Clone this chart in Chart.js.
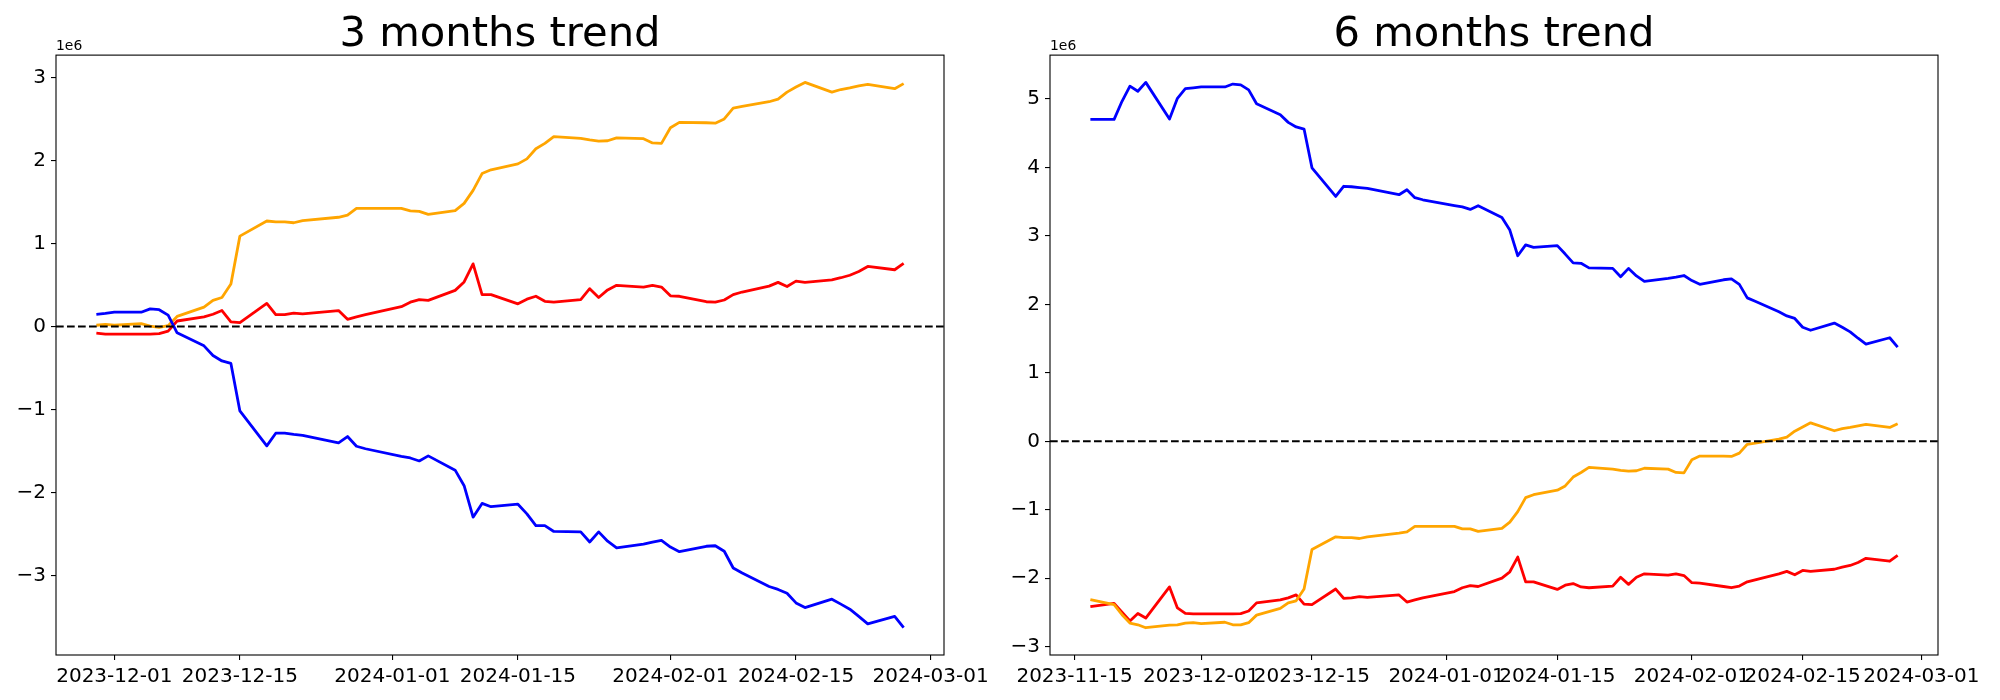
<!DOCTYPE html>
<html>
<head>
<meta charset="utf-8">
<script src="https://cdn.jsdelivr.net/npm/chart.js@4.4.1/dist/chart.umd.min.js"></script>
<style>
  html, body { margin: 0; padding: 0; background: #fff; }
  #wrap { position: relative; width: 2000px; height: 700px; }
  .panel { position: absolute; top: 0; width: 1000px; height: 700px; }
</style>
</head>
<body>
<div id="wrap">
  <div class="panel" style="left:0"><canvas id="chart3" width="1000" height="700"></canvas></div>
  <div class="panel" style="left:994px"><canvas id="chart6" width="1000" height="700"></canvas></div>
</div>
<script>
// values are in units of 1e6
const dates3 = ['2023-11-29','2023-11-30','2023-12-01','2023-12-04','2023-12-05','2023-12-06','2023-12-07','2023-12-08','2023-12-11','2023-12-12','2023-12-13','2023-12-14','2023-12-15','2023-12-18','2023-12-19','2023-12-20','2023-12-21','2023-12-22','2023-12-26','2023-12-27','2023-12-28','2023-12-29','2024-01-02','2024-01-03','2024-01-04','2024-01-05','2024-01-08','2024-01-09','2024-01-10','2024-01-11','2024-01-12','2024-01-15','2024-01-16','2024-01-17','2024-01-18','2024-01-19','2024-01-22','2024-01-23','2024-01-24','2024-01-25','2024-01-26','2024-01-29','2024-01-30','2024-01-31','2024-02-01','2024-02-02','2024-02-05','2024-02-06','2024-02-07','2024-02-08','2024-02-09','2024-02-12','2024-02-13','2024-02-14','2024-02-15','2024-02-16','2024-02-19','2024-02-20','2024-02-21','2024-02-22','2024-02-23','2024-02-26','2024-02-27'];
const blue3 = [0.147, 0.157, 0.172, 0.172, 0.212, 0.202, 0.137, -0.076, -0.233, -0.349, -0.415, -0.445, -1.017, -1.437, -1.285, -1.285, -1.300, -1.310, -1.401, -1.325, -1.442, -1.472, -1.563, -1.583, -1.619, -1.558, -1.730, -1.917, -2.296, -2.130, -2.170, -2.140, -2.256, -2.398, -2.398, -2.468, -2.473, -2.595, -2.473, -2.585, -2.666, -2.620, -2.595, -2.575, -2.656, -2.711, -2.646, -2.640, -2.706, -2.908, -2.969, -3.131, -3.166, -3.212, -3.328, -3.384, -3.283, -3.343, -3.404, -3.490, -3.581, -3.490, -3.627];
const orange3 = [0.015, 0.025, 0.015, 0.035, 0.005, -0.010, 0.010, 0.121, 0.233, 0.314, 0.349, 0.511, 1.088, 1.270, 1.259, 1.259, 1.249, 1.275, 1.315, 1.340, 1.421, 1.421, 1.421, 1.391, 1.386, 1.350, 1.396, 1.482, 1.639, 1.841, 1.887, 1.958, 2.018, 2.140, 2.205, 2.286, 2.266, 2.246, 2.231, 2.236, 2.271, 2.261, 2.210, 2.205, 2.393, 2.458, 2.453, 2.448, 2.499, 2.630, 2.650, 2.706, 2.737, 2.822, 2.883, 2.939, 2.822, 2.853, 2.873, 2.898, 2.914, 2.863, 2.924];
const red3 = [-0.081, -0.091, -0.091, -0.091, -0.091, -0.086, -0.056, 0.066, 0.116, 0.147, 0.192, 0.056, 0.046, 0.278, 0.142, 0.142, 0.162, 0.152, 0.192, 0.086, 0.116, 0.142, 0.238, 0.293, 0.324, 0.314, 0.435, 0.536, 0.754, 0.384, 0.384, 0.273, 0.329, 0.364, 0.303, 0.293, 0.324, 0.455, 0.349, 0.440, 0.496, 0.475, 0.496, 0.475, 0.369, 0.364, 0.298, 0.293, 0.319, 0.384, 0.415, 0.486, 0.531, 0.481, 0.546, 0.531, 0.561, 0.587, 0.617, 0.663, 0.723, 0.683, 0.759];

const dates6 = ['2023-11-17','2023-11-20','2023-11-21','2023-11-22','2023-11-23','2023-11-24','2023-11-27','2023-11-28','2023-11-29','2023-11-30','2023-12-01','2023-12-04','2023-12-05','2023-12-06','2023-12-07','2023-12-08','2023-12-11','2023-12-12','2023-12-13','2023-12-14','2023-12-15','2023-12-18','2023-12-19','2023-12-20','2023-12-21','2023-12-22','2023-12-26','2023-12-27','2023-12-28','2023-12-29','2024-01-02','2024-01-03','2024-01-04','2024-01-05','2024-01-08','2024-01-09','2024-01-10','2024-01-11','2024-01-12','2024-01-15','2024-01-16','2024-01-17','2024-01-18','2024-01-19','2024-01-22','2024-01-23','2024-01-24','2024-01-25','2024-01-26','2024-01-29','2024-01-30','2024-01-31','2024-02-01','2024-02-02','2024-02-05','2024-02-06','2024-02-07','2024-02-08','2024-02-09','2024-02-12','2024-02-13','2024-02-14','2024-02-15','2024-02-16','2024-02-19','2024-02-20','2024-02-21','2024-02-22','2024-02-23','2024-02-26','2024-02-27'];
const blue6 = [4.700, 4.700, 4.965, 5.186, 5.112, 5.241, 4.707, 5.008, 5.149, 5.161, 5.174, 5.174, 5.217, 5.204, 5.131, 4.930, 4.768, 4.657, 4.590, 4.559, 3.994, 3.576, 3.724, 3.717, 3.705, 3.693, 3.601, 3.674, 3.558, 3.527, 3.441, 3.422, 3.386, 3.441, 3.269, 3.084, 2.710, 2.869, 2.833, 2.857, 2.734, 2.605, 2.599, 2.532, 2.525, 2.402, 2.525, 2.415, 2.335, 2.378, 2.396, 2.421, 2.347, 2.292, 2.359, 2.372, 2.292, 2.095, 2.046, 1.892, 1.831, 1.794, 1.665, 1.622, 1.727, 1.665, 1.598, 1.505, 1.419, 1.512, 1.376];
const orange6 = [-2.310, -2.384, -2.532, -2.654, -2.679, -2.722, -2.685, -2.679, -2.654, -2.648, -2.661, -2.642, -2.679, -2.679, -2.648, -2.538, -2.439, -2.359, -2.329, -2.157, -1.579, -1.395, -1.407, -1.407, -1.419, -1.395, -1.339, -1.321, -1.241, -1.241, -1.241, -1.278, -1.278, -1.315, -1.272, -1.180, -1.026, -0.823, -0.780, -0.713, -0.651, -0.522, -0.455, -0.381, -0.406, -0.424, -0.436, -0.430, -0.393, -0.406, -0.455, -0.461, -0.270, -0.215, -0.215, -0.221, -0.172, -0.043, -0.025, 0.031, 0.061, 0.147, 0.209, 0.270, 0.154, 0.184, 0.203, 0.227, 0.246, 0.203, 0.258];
const red6 = [-2.415, -2.366, -2.495, -2.624, -2.513, -2.581, -2.126, -2.433, -2.513, -2.519, -2.519, -2.519, -2.519, -2.516, -2.478, -2.359, -2.316, -2.286, -2.243, -2.378, -2.384, -2.157, -2.292, -2.286, -2.267, -2.280, -2.243, -2.347, -2.316, -2.286, -2.194, -2.138, -2.108, -2.120, -1.997, -1.905, -1.690, -2.052, -2.052, -2.163, -2.101, -2.077, -2.126, -2.138, -2.114, -1.985, -2.089, -1.985, -1.935, -1.954, -1.935, -1.960, -2.064, -2.071, -2.120, -2.138, -2.114, -2.052, -2.022, -1.935, -1.899, -1.948, -1.886, -1.899, -1.868, -1.837, -1.813, -1.770, -1.708, -1.751, -1.665];

const xTicks3 = ['2023-12-01','2023-12-15','2024-01-01','2024-01-15','2024-02-01','2024-02-15','2024-03-01'];
const xTicks6 = ['2023-11-15','2023-12-01','2023-12-15','2024-01-01','2024-01-15','2024-02-01','2024-02-15','2024-03-01'];
const yTicks3 = [-3, -2, -1, 0, 1, 2, 3];
const yTicks6 = [-3, -2, -1, 0, 1, 2, 3, 4, 5];

const FONT = 'DejaVu Sans';

function dayNum(s) {
    const p = s.split('-');
    return Date.UTC(+p[0], +p[1] - 1, +p[2]) / 86400000;
}
function dayLabel(n) {
    return new Date(n * 86400000).toISOString().slice(0, 10);
}

// dashed zero line, axes frame and the "1e6" offset label
const decor = {
    id: 'decor',
    afterDatasetsDraw(chart) {
        const a = chart.chartArea;
        const y0 = chart.scales.y.getPixelForValue(0);
        const ctx = chart.ctx;
        ctx.save();
        ctx.strokeStyle = '#000';
        ctx.lineWidth = 2.1;
        ctx.setLineDash([7.7, 3.3]);
        ctx.beginPath();
        ctx.moveTo(a.left, y0);
        ctx.lineTo(a.right, y0);
        ctx.stroke();
        ctx.restore();
    },
    afterDraw(chart) {
        const a = chart.chartArea;
        const ctx = chart.ctx;
        ctx.save();
        ctx.strokeStyle = '#000';
        ctx.lineWidth = 1.1;
        ctx.strokeRect(a.left, a.top, a.right - a.left, a.bottom - a.top);
        ctx.fillStyle = '#000';
        ctx.font = '13.9px "' + FONT + '"';
        ctx.textAlign = 'left';
        ctx.textBaseline = 'alphabetic';
        ctx.fillText('1e6', a.left, a.top - 5);
        ctx.restore();
    }
};

function makeChart(canvasId, title, dates, series, xTicks, yTicks) {
    const xs = dates.map(dayNum);
    const xSpan = xs[xs.length - 1] - xs[0];
    const allY = [].concat(...series.map(s => s.values));
    const yLo = Math.min(...allY), yHi = Math.max(...allY);
    const ySpan = yHi - yLo;

    const datasets = series.map(s => ({
        data: s.values.map((v, i) => ({ x: xs[i], y: v })),
        borderColor: s.color,
        borderWidth: 2.8,
        borderJoinStyle: 'round',
        pointRadius: 0,
        pointHoverRadius: 0,
        fill: false,
        tension: 0
    }));

    const tickFont = { family: FONT, size: 20 };

    return new Chart(document.getElementById(canvasId).getContext('2d'), {
        type: 'line',
        data: { datasets: datasets },
        plugins: [decor],
        options: {
            responsive: false,
            animation: false,
            events: [],
            layout: { padding: 0 },
            plugins: {
                legend: { display: false },
                tooltip: { enabled: false },
                title: {
                    display: true,
                    text: title,
                    color: '#000',
                    font: { family: FONT, size: 41.7, weight: 'normal', lineHeight: 0.95 },
                    padding: { top: 15.5, bottom: 0 }
                }
            },
            scales: {
                x: {
                    type: 'linear',
                    min: xs[0] - 0.05 * xSpan,
                    max: xs[xs.length - 1] + 0.05 * xSpan,
                    afterBuildTicks: s => { s.ticks = xTicks.map(t => ({ value: dayNum(t) })); },
                    afterFit: s => { s.height = 45; },
                    ticks: {
                        autoSkip: false, maxRotation: 0, minRotation: 0,
                        color: '#000', padding: 5, font: tickFont,
                        callback: v => dayLabel(v)
                    },
                    grid: { drawOnChartArea: false, drawTicks: true, tickLength: 5, color: '#000', lineWidth: 1.1 },
                    border: { display: false }
                },
                y: {
                    type: 'linear',
                    position: 'left',
                    min: yLo - 0.05 * ySpan,
                    max: yHi + 0.05 * ySpan,
                    afterBuildTicks: s => { s.ticks = yTicks.map(v => ({ value: v })); },
                    afterFit: s => { s.width = 56; },
                    ticks: {
                        color: '#000', padding: 5, font: tickFont,
                        callback: v => (v < 0 ? '\u2212' + Math.abs(v) : String(v))
                    },
                    grid: { drawOnChartArea: false, drawTicks: true, tickLength: 5, color: '#000', lineWidth: 1.1 },
                    border: { display: false }
                },
                // empty spacer on the right so the plot sits centred under the title
                spacer: {
                    type: 'linear',
                    position: 'right',
                    afterFit: s => { s.width = 56; },
                    ticks: { display: false },
                    grid: { display: false },
                    border: { display: false }
                }
            }
        }
    });
}

makeChart('chart3', '3 months trend', dates3, [
    { values: blue3, color: '#0000ff' },
    { values: orange3, color: '#ffa500' },
    { values: red3, color: '#ff0000' }
], xTicks3, yTicks3);

makeChart('chart6', '6 months trend', dates6, [
    { values: blue6, color: '#0000ff' },
    { values: orange6, color: '#ffa500' },
    { values: red6, color: '#ff0000' }
], xTicks6, yTicks6);
</script>
</body>
</html>
